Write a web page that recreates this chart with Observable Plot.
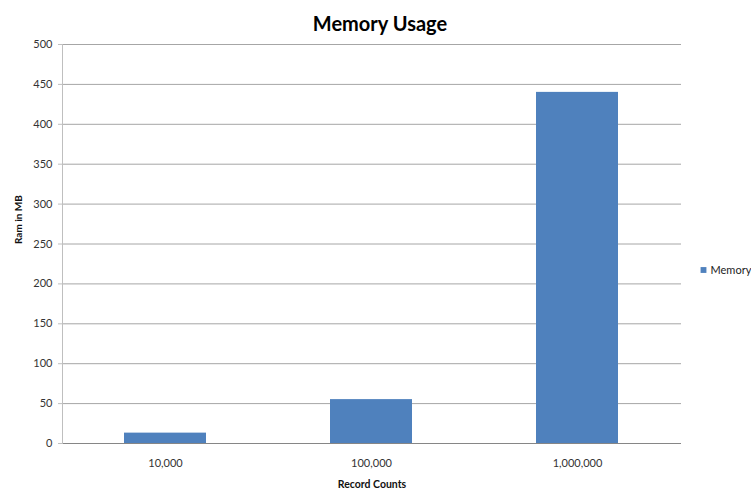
<!DOCTYPE html>
<html>
<head>
<meta charset="utf-8">
<script src="https://cdn.jsdelivr.net/npm/d3@7"></script>
<script src="https://cdn.jsdelivr.net/npm/@observablehq/plot@0.6"></script>
<style>
  html, body { margin: 0; padding: 0; background: #fff; }
  #chart svg { display: block; }
</style>
</head>
<body>
<div id="chart"></div>
<script>
// Memory used at each record count
const recordCounts = ["10,000", "100,000", "1,000,000"];
const memoryMB = [13, 55, 440];
const yTicks = [0, 50, 100, 150, 200, 250, 300, 350, 400, 450, 500];

const seriesName = "Memory";
const chartTitle = "Memory Usage";
const xTitle = "Record Counts";
const yTitle = "Ram in MB";

const rows = recordCounts.map((c, i) => ({count: c, mb: memoryMB[i]}));

const barColor = "#4f81bd";
const font = "Lato, 'Open Sans', sans-serif";

const chart = Plot.plot({
  width: 751,
  height: 495,
  marginLeft: 62,
  marginRight: 70,
  marginTop: 44,
  marginBottom: 52,
  style: {fontFamily: font, fontSize: "11px", color: "#333", background: "#fff"},
  x: {domain: recordCounts, paddingInner: 0.6, paddingOuter: 0.3, label: null},
  y: {domain: [0, 500], ticks: yTicks, label: null},
  marks: [
    Plot.gridY(yTicks, {stroke: "#a6a6a6", strokeOpacity: 1}),
    Plot.barY(rows, {x: "count", y: "mb", fill: barColor}),
    Plot.ruleY([0], {stroke: "#868686", strokeWidth: 1.2}),
    Plot.frame({anchor: "left", stroke: "#bfbfbf"}),
    Plot.axisY(yTicks, {tickSize: 4, tickPadding: 6, stroke: "#bfbfbf", fill: "#333", fontSize: 11, label: null}),
    Plot.axisX({tickSize: 0, tickPadding: 16, fill: "#333", fontSize: 11, label: null}),
    // Axis titles
    Plot.text([yTitle], {frameAnchor: "left", dx: -44, rotate: -90, fontWeight: "bold", fontSize: 10, fill: "#111"}),
    Plot.text([xTitle], {frameAnchor: "bottom", dy: 44, fontWeight: "bold", fontSize: 10.5, fill: "#111"}),
    // Chart title
    Plot.text([chartTitle], {frameAnchor: "top", dx: 8, dy: -28, fontWeight: "bold", fontSize: 20, fill: "#000"}),
    // Legend
    Plot.dot([seriesName], {frameAnchor: "right", dx: 22, dy: 26, symbol: "square", r: 3.3, fill: barColor, stroke: null}),
    Plot.text([seriesName], {frameAnchor: "right", dx: 29, dy: 26, textAnchor: "start", fontSize: 11, fill: "#222"})
  ]
});

document.getElementById("chart").appendChild(chart);
</script>
</body>
</html>
